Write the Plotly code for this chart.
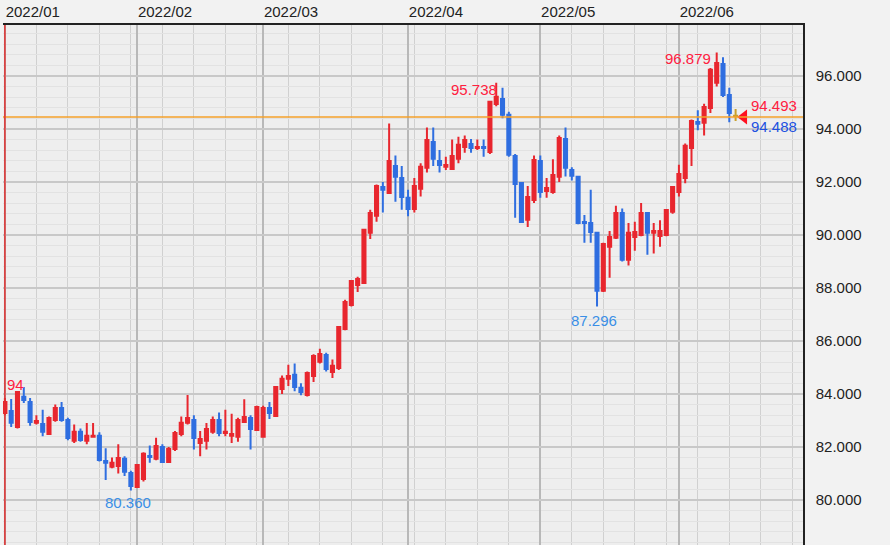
import plotly.graph_objects as go

# daily candles, index 0 = first trading day of 2022/01
opens = [83.28, 83.36, 82.75, 83.89, 83.70, 82.91, 82.87, 82.49, 83.02, 83.47,
         83.02, 82.23, 82.57, 82.23, 82.38, 82.42, 81.47, 81.25, 81.28, 81.55,
         81.02, 80.49, 80.79, 81.66, 81.55, 82.00, 81.43, 81.92, 82.49, 82.91,
         83.02, 82.15, 82.23, 82.57, 83.02, 82.53, 82.42, 82.38, 82.94, 83.09,
         82.64, 82.38, 83.47, 83.17, 84.19, 84.57, 84.72, 84.23, 83.96, 84.68,
         85.21, 85.47, 84.83, 84.98, 86.45, 87.36, 88.11, 88.19, 90.08, 90.72,
         91.81, 91.58, 92.60, 92.15, 91.40, 90.98, 91.74, 92.53, 93.51, 92.79,
         92.57, 92.49, 92.87, 93.32, 93.43, 93.28, 93.32, 93.13, 94.94, 95.13,
         94.53, 92.98, 91.96, 90.57, 91.32, 92.79, 91.66, 91.62, 92.19, 93.62,
         92.45, 92.19, 90.49, 90.45, 90.08, 87.89, 89.55, 89.89, 90.83, 89.06,
         89.92, 90.00, 90.83, 90.08, 89.96, 90.00, 90.87, 91.62, 92.15, 93.28,
         94.26, 94.23, 94.79, 95.74, 96.45, 95.28]
closes = [83.70, 82.91, 84.07, 83.77, 82.94, 82.98, 82.57, 83.09, 83.47, 83.02,
          82.34, 82.57, 82.26, 82.42, 82.42, 81.51, 81.40, 81.40, 81.58, 81.06,
          80.53, 81.32, 81.74, 81.62, 82.04, 81.43, 81.92, 82.53, 82.91, 83.09,
          82.34, 82.30, 82.68, 83.02, 82.53, 82.57, 82.49, 83.02, 83.13, 82.68,
          83.51, 83.47, 83.28, 84.26, 84.57, 84.68, 84.26, 84.07, 84.79, 85.43,
          85.51, 84.94, 85.06, 86.53, 87.47, 88.26, 88.34, 90.19, 90.83, 91.85,
          91.70, 92.79, 92.19, 91.43, 90.98, 91.85, 92.57, 93.58, 92.87, 92.64,
          92.64, 92.98, 93.40, 93.58, 93.28, 93.32, 93.28, 95.02, 95.21, 94.53,
          93.02, 91.92, 90.49, 91.43, 92.83, 91.62, 91.77, 92.26, 93.66, 92.53,
          92.23, 90.45, 90.45, 90.11, 87.89, 89.66, 89.92, 90.83, 89.06, 90.08,
          90.11, 90.83, 90.08, 90.15, 90.15, 90.94, 91.81, 92.30, 93.36, 94.30,
          94.19, 94.83, 96.23, 96.49, 95.28, 94.60]
highs = [83.85, 83.81, 84.10, 84.26, 83.85, 83.20, 83.40, 83.15, 83.60, 83.70,
         83.10, 82.85, 82.70, 82.90, 82.90, 82.55, 81.95, 81.60, 82.10, 81.65,
         81.10, 81.35, 81.80, 82.05, 82.35, 82.10, 82.00, 82.60, 83.15, 83.96,
         83.20, 82.60, 82.90, 83.15, 83.30, 83.40, 83.25, 83.10, 83.80, 83.20,
         83.55, 83.55, 83.70, 84.28, 84.70, 85.10, 85.15, 84.40, 84.85, 85.50,
         85.70, 85.55, 85.30, 86.55, 87.55, 88.30, 88.42, 90.22, 90.95, 91.90,
         92.00, 94.20, 93.00, 92.60, 91.70, 92.15, 92.70, 94.05, 94.05, 93.20,
         92.95, 93.60, 93.70, 93.75, 93.62, 93.60, 93.60, 95.06, 95.738, 95.55,
         94.65, 93.05, 92.00, 91.85, 93.00, 93.00, 92.15, 92.85, 93.75, 94.05,
         92.55, 92.20, 90.75, 91.70, 90.10, 89.70, 90.15, 91.10, 91.00, 90.45,
         90.50, 91.20, 90.85, 90.45, 90.55, 90.95, 91.85, 92.65, 93.45, 94.35,
         94.70, 94.95, 96.30, 96.879, 96.70, 95.55]
lows = [83.20, 82.75, 82.70, 83.66, 82.80, 82.85, 82.40, 82.45, 82.95, 82.95,
        82.25, 82.15, 82.20, 82.10, 82.35, 81.45, 80.75, 81.20, 81.00, 80.90,
        80.36, 80.45, 80.70, 81.40, 81.50, 81.40, 81.40, 81.85, 82.40, 82.85,
        81.90, 81.65, 81.90, 82.50, 82.40, 82.40, 82.15, 82.20, 82.90, 81.90,
        82.60, 82.35, 83.05, 83.15, 84.00, 84.30, 84.10, 83.95, 83.90, 84.45,
        85.15, 84.85, 84.60, 84.90, 86.40, 87.30, 87.85, 88.15, 89.85, 90.50,
        90.85, 91.55, 91.25, 90.95, 90.70, 90.85, 91.45, 92.35, 92.60, 92.35,
        92.45, 92.45, 92.70, 93.10, 93.10, 93.20, 92.95, 93.05, 94.85, 94.40,
        92.95, 90.65, 90.45, 90.30, 91.20, 91.40, 91.40, 91.55, 92.00, 92.20,
        92.05, 90.40, 89.70, 89.70, 87.296, 87.85, 88.38, 89.85, 89.00, 88.85,
        89.40, 89.95, 89.25, 89.30, 89.55, 89.95, 90.80, 91.45, 91.95, 92.60,
        93.95, 93.75, 94.60, 95.60, 95.20, 94.25]

# today's doji
last_ohlc = [94.488, 94.75, 94.30, 94.493]
bid, ask = 94.493, 94.488

month_pos = [0, 21, 41, 64, 85, 107]
month_labels = ["2022/01", "2022/02", "2022/03", "2022/04", "2022/05", "2022/06"]
y_ticks = [80, 82, 84, 86, 88, 90, 92, 94, 96]

RED = "#e8262e"
BLUE = "#2f6ee0"

x = list(range(len(opens)))
fig = go.Figure()
fig.add_trace(go.Candlestick(
    x=x, open=opens, high=highs, low=lows, close=closes,
    increasing=dict(line=dict(color=RED, width=2), fillcolor=RED),
    decreasing=dict(line=dict(color=BLUE, width=2), fillcolor=BLUE),
    whiskerwidth=0, showlegend=False, hoverinfo="skip"))
n = len(opens)
fig.add_trace(go.Candlestick(
    x=[n], open=[last_ohlc[0]], high=[last_ohlc[1]], low=[last_ohlc[2]], close=[last_ohlc[3]],
    increasing=dict(line=dict(color="#c9a02c", width=2), fillcolor="#c9a02c"),
    decreasing=dict(line=dict(color="#c9a02c", width=2), fillcolor="#c9a02c"),
    whiskerwidth=0, showlegend=False, hoverinfo="skip"))
fig.add_trace(go.Scatter(
    x=[n + 1.3], y=[94.45], mode="markers",
    marker=dict(symbol="triangle-left", size=13, color="#ff1020"),
    showlegend=False, hoverinfo="skip"))

fig.add_hline(y=94.45, line=dict(color="#f5a02a", width=1.5))
fig.add_vline(x=0, line=dict(color="#e03030", width=1.5))

font = "Liberation Sans"
ann = [
    (0.0, 84.75, "94", "#ff2040", "left"),
    (19.5, 80.3, "80.360", "#3a8ee6", "center"),
    (93.5, 87.15, "87.296", "#3a8ee6", "center"),
    (74.5, 95.9, "95.738", "#ff2040", "center"),
    (108.5, 97.05, "96.879", "#ff2040", "center"),
]
for ax, ay, t, c, xa in ann:
    fig.add_annotation(x=ax, y=ay, text=t, showarrow=False, xanchor=xa, yanchor="top",
                       font=dict(family=font, size=15, color=c))
fig.add_annotation(x=n + 2.2, y=bid, text=f"{bid:.3f}", showarrow=False, xanchor="left",
                   yanchor="bottom", font=dict(family=font, size=15, color="#ff2040"))
fig.add_annotation(x=n + 2.2, y=ask, text=f"{ask:.3f}", showarrow=False, xanchor="left",
                   yanchor="top", font=dict(family=font, size=15, color="#2050e0"))

fig.update_layout(
    width=890, height=545,
    margin=dict(l=3, r=87, t=25, b=0, pad=0),
    paper_bgcolor="#f2f2f2", plot_bgcolor="#eeeeee",
    font=dict(family=font, size=15, color="#222"),
    xaxis=dict(range=[-0.3, 126.7], side="top", tickmode="array",
               tickvals=month_pos, ticktext=month_labels,
               ticklabelposition="outside right", ticks="", automargin=False,
               showgrid=True, gridcolor="#b8b8b8", gridwidth=1.5,
               minor=dict(dtick=5, tick0=0, showgrid=True, gridcolor="#d0d0d0", gridwidth=1),
               showline=True, linecolor="#222", linewidth=1.5,
               rangeslider=dict(visible=False), zeroline=False, fixedrange=True),
    yaxis=dict(range=[78.3, 97.92], side="right", tickmode="array",
               tickvals=y_ticks, ticktext=[f"{v:.3f}" for v in y_ticks],
               ticks="", ticklabelstandoff=8, automargin=False,
               showgrid=True, gridcolor="#c8c8c8", gridwidth=1.5,
               minor=dict(dtick=0.4, showgrid=True, gridcolor="#e2e2e2", gridwidth=1),
               showline=True, linecolor="#222", linewidth=1.5, zeroline=False),
)

# page has a default body margin; remove it so the chart sits at (0, 0)
fig.write_html("out.html", config={"displayModeBar": False},
               post_script="document.body.style.margin='0';")
